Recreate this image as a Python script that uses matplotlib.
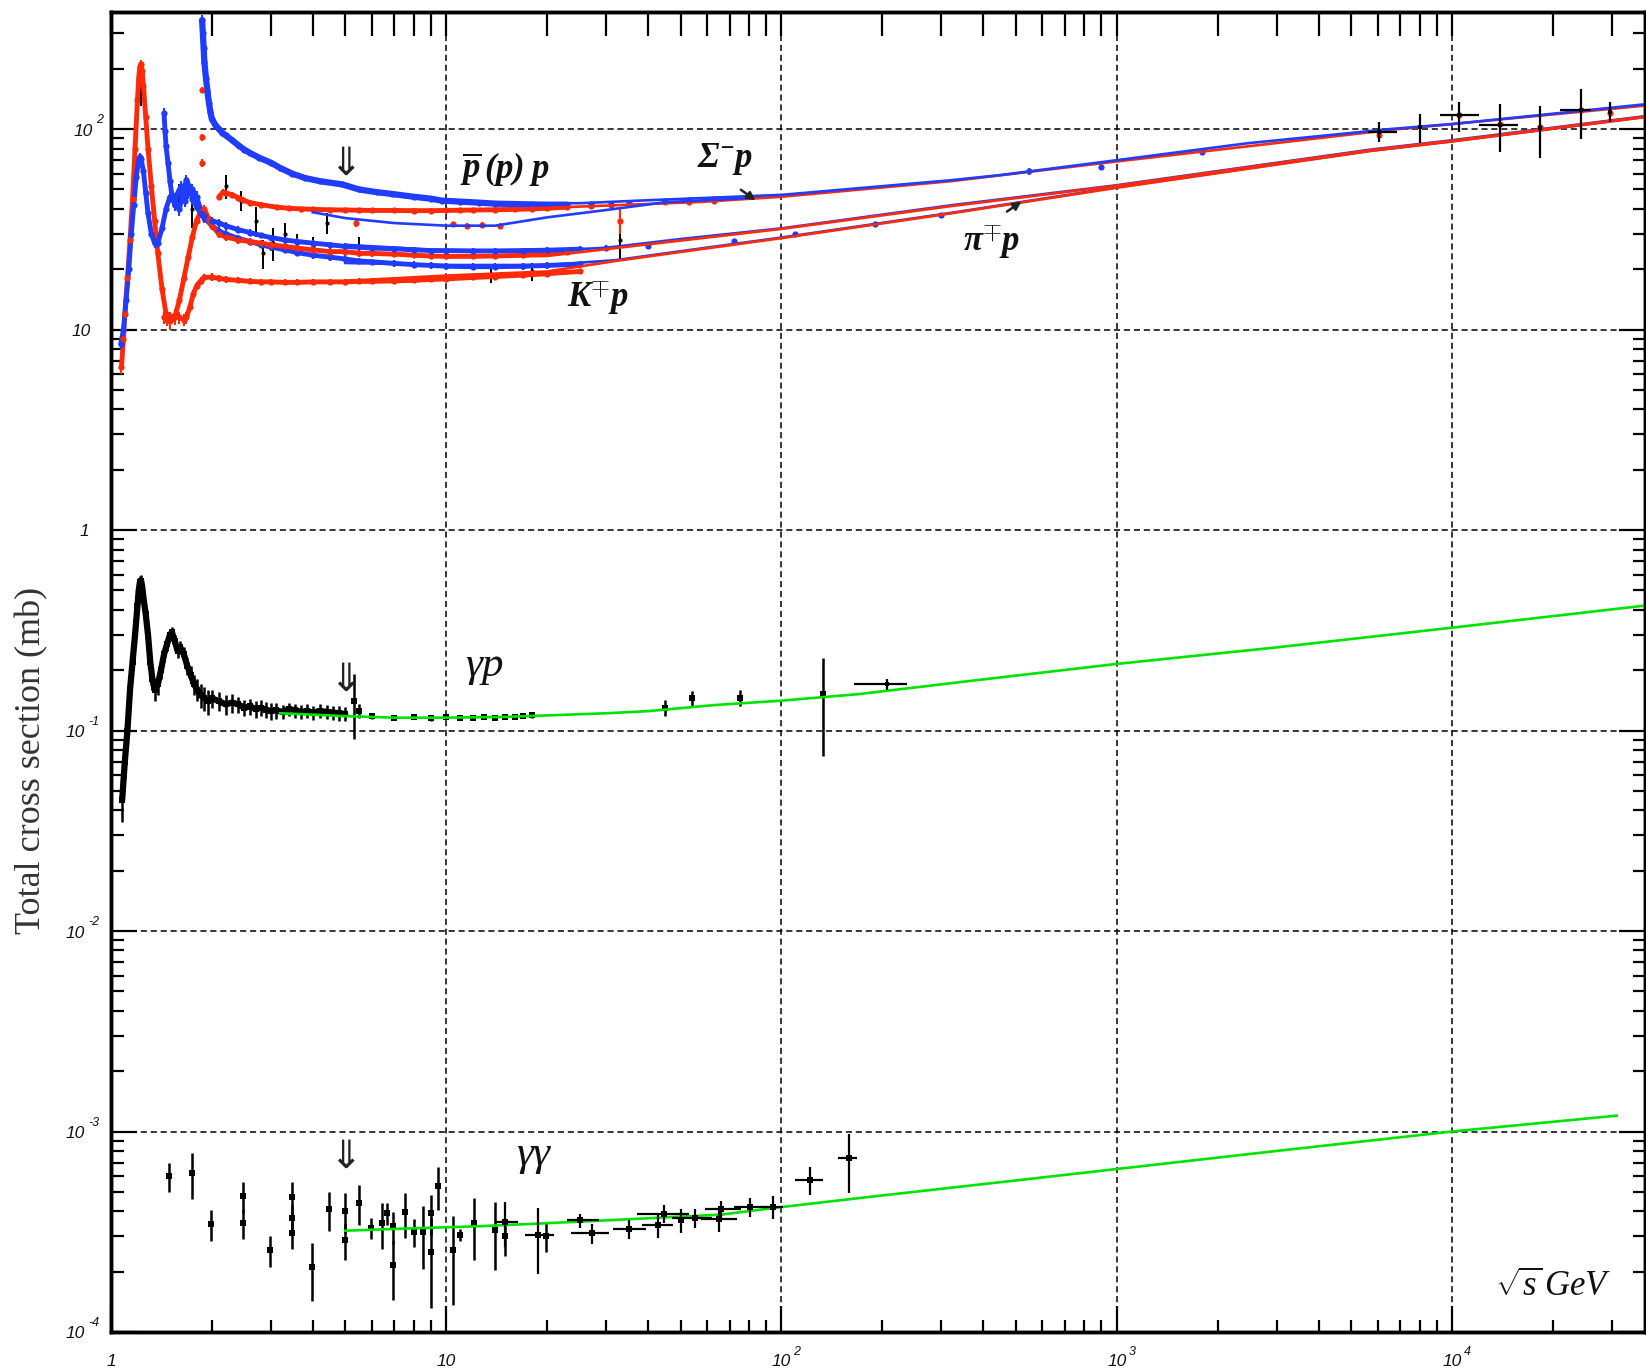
import matplotlib
matplotlib.use("Agg")
import matplotlib.pyplot as plt
from matplotlib.transforms import offset_copy
from matplotlib.ticker import LogLocator, NullFormatter
import numpy as np

# ---------------- data: (sqrt(s) GeV, sigma mb, error) ----------------
pbarp_pts = [(1.87, 350, 20), (1.88, 300, 15), (1.89, 255, 12), (1.9, 215, 10), (1.92, 180, 8),
             (1.94, 155, 7), (1.96, 135, 6), (1.98, 122, 5), (2.0, 112, 5), (2.05, 105, 4),
             (2.1, 100, 4), (2.15, 96, 3), (2.2, 93, 3), (2.3, 88, 3), (2.4, 83, 3), (2.5, 79, 2),
             (2.6, 76, 2), (2.77, 72, 2), (3.0, 68, 2), (3.2, 64, 2), (3.47, 60, 2), (3.8, 57, 2),
             (4.2, 55, 1.5), (4.9, 53, 1.5), (5.5, 50, 1.5), (6.2, 48.5, 1.5), (6.9, 47.5, 1.5),
             (8.0, 46, 1), (9.0, 45, 1), (9.7, 44, 1), (11, 43.5, 1), (12.5, 43, 1), (14, 42.5, 1),
             (16, 42.3, 1), (18, 42.1, 1), (20, 42, 1), (23, 42, 1), (27, 42.2, 1), (31, 42.5, 1),
             (35, 43, 1), (45, 44, 1), (53, 44.5, 1), (63, 45, 1), (546, 61.5, 2.5), (900, 65, 2),
             (1800, 77, 3)]
pp_pts = [(1.865, 157, 5), (1.87, 91, 4), (1.875, 68, 3), (2.1, 46, 1.5), (2.16, 48.5, 1.5),
          (2.2, 48, 1.5), (2.3, 47, 1.5), (2.4, 45.5, 1.5), (2.48, 44.3, 1.5), (2.6, 43, 1.2),
          (2.8, 42, 1.2), (3.12, 40.8, 1), (3.4, 40.3, 1), (3.7, 40, 1), (4.0, 39.8, 1), (4.5, 39.6, 1),
          (5, 39.5, 1), (5.5, 39.4, 1), (6, 39.3, 1), (7, 39.3, 1), (8, 39.2, 1), (9, 39.2, 1),
          (10, 39.3, 1), (11, 39.4, 1), (12, 39.5, 1), (14, 39.6, 1), (16, 39.8, 1), (18, 40, 1),
          (20, 40.3, 1), (23, 40.8, 1), (27, 41.3, 1), (31, 41.8, 1), (35, 42.3, 1), (45, 43.2, 1),
          (53, 43.5, 1), (63, 43.8, 1), (6040, 93, 3), (10500, 117, 3), (13900, 106, 3),
          (18300, 103, 3), (24300, 124, 3), (29500, 121, 3)]
sigma_pts = [(5.4, 34, 1.5), (10.5, 33.5, 1), (11.5, 33, 1), (12.8, 33.3, 1), (14.5, 33, 1), (33, 35, 5)]
pip_pts = [(1.075, 6.5, 0.5), (1.09, 9, 0.5), (1.1, 12, 1), (1.12, 18, 1), (1.14, 28, 2), (1.16, 45, 3),
           (1.18, 80, 5), (1.2, 140, 8), (1.21, 180, 8), (1.22, 205, 8), (1.23, 212, 8), (1.24, 195, 8),
           (1.25, 165, 7), (1.27, 115, 5), (1.29, 80, 4), (1.32, 52, 3), (1.35, 35, 2), (1.38, 24, 1.5),
           (1.42, 16, 1), (1.46, 12, 1), (1.5, 11, 1), (1.55, 11.5, 1), (1.6, 14, 1), (1.65, 18, 1),
           (1.7, 23, 1.5), (1.75, 29, 1.5), (1.8, 35, 2), (1.85, 38.5, 2), (1.9, 40, 2), (1.95, 36, 2),
           (2.0, 33, 1.5), (2.1, 30, 1.5), (2.2, 29, 1.2), (2.4, 28, 1.2), (2.6, 27.5, 1), (2.8, 27, 1),
           (3.0, 26.5, 1), (3.3, 26, 1), (3.6, 25.5, 1), (4.0, 25, 1), (4.5, 24.5, 1), (5.0, 24.5, 1),
           (5.5, 24, 1), (6.0, 24, 1), (7.0, 23.8, 0.8), (8.0, 23.5, 0.8), (9.0, 23.3, 0.8),
           (10.0, 23.2, 0.8), (12, 23.2, 0.8), (14, 23.3, 0.8), (17, 23.5, 0.8), (20, 24, 0.8),
           (23, 24.5, 0.8)]
pim_pts = [(1.07, 8.5, 0.5), (1.09, 10, 0.5), (1.11, 14, 1), (1.13, 20, 1), (1.15, 30, 2), (1.17, 42, 2),
           (1.19, 58, 3), (1.21, 70, 3), (1.22, 73, 3), (1.23, 71, 3), (1.25, 62, 3), (1.27, 48, 2),
           (1.29, 38, 2), (1.32, 30, 1.5), (1.35, 27, 1.5), (1.38, 27, 1.5), (1.42, 32, 2), (1.46, 40, 2),
           (1.5, 46, 3), (1.52, 47, 3), (1.55, 42, 3), (1.6, 40, 3), (1.65, 50, 3), (1.68, 56, 3),
           (1.71, 52, 3), (1.75, 45, 3), (1.8, 41, 2), (1.85, 38, 2), (1.9, 37, 2), (2.0, 35, 1.5),
           (2.1, 34, 1.5), (2.2, 33, 1.5), (2.4, 31.5, 1.2), (2.6, 30.5, 1.2), (2.8, 29.5, 1),
           (3.0, 28.8, 1), (3.3, 28, 1), (3.6, 27.5, 1), (4.0, 27, 1), (4.5, 26.5, 1), (5.0, 26, 1),
           (6.0, 25.5, 0.8), (7.0, 25.3, 0.8), (8.0, 25, 0.8), (9.0, 24.8, 0.8), (10, 24.8, 0.8),
           (12, 24.7, 0.8), (14, 24.7, 0.8), (17, 24.8, 0.8), (20, 24.9, 0.8), (25, 25.2, 0.8),
           (30, 25.6, 0.8), (40, 26.2, 0.6), (72, 27.8, 0.6), (110, 30, 0.6), (190, 33.5, 0.6),
           (300, 37.5, 0.6)]
km_pts = [(1.44, 120, 8), (1.45, 98, 6), (1.46, 82, 5), (1.48, 68, 4), (1.5, 55, 4), (1.52, 47, 3),
          (1.55, 42, 3), (1.58, 48, 3), (1.62, 52, 3), (1.66, 44, 3), (1.7, 48, 3), (1.75, 50, 3),
          (1.8, 46, 3), (1.85, 40, 2), (1.9, 36, 2), (2.0, 33, 1.5), (2.1, 31, 1.5), (2.2, 30, 1.5),
          (2.4, 28.5, 1.2), (2.6, 27.5, 1.2), (2.8, 26.5, 1), (3.0, 25.8, 1), (3.3, 25, 1),
          (3.6, 24.2, 1), (4.0, 23.5, 1), (4.5, 23, 1), (5, 22.5, 1), (5.5, 22, 0.8), (6, 21.8, 0.8),
          (7, 21.4, 0.8), (8, 21.1, 0.8), (9, 20.9, 0.8), (10, 20.7, 0.8), (12, 20.6, 0.8),
          (14, 20.6, 0.8), (17, 20.7, 0.8), (20, 20.9, 0.8), (25, 21.2, 0.8)]
kp_pts = [(1.44, 11.5, 0.8), (1.47, 11.2, 0.8), (1.5, 11.5, 0.8), (1.55, 11.8, 0.8), (1.6, 11.5, 0.8),
          (1.65, 11.2, 0.8), (1.68, 11.5, 0.8), (1.72, 13, 0.8), (1.76, 15, 0.8), (1.8, 16.5, 0.8),
          (1.85, 17.5, 0.8), (1.9, 18.2, 0.8), (2.0, 18.3, 0.8), (2.1, 18, 0.8), (2.2, 17.8, 0.8),
          (2.4, 17.6, 0.6), (2.6, 17.4, 0.6), (2.8, 17.3, 0.6), (3.0, 17.3, 0.6), (3.3, 17.2, 0.6),
          (3.6, 17.2, 0.6), (4.0, 17.3, 0.6), (4.5, 17.3, 0.6), (5.0, 17.3, 0.6), (5.5, 17.4, 0.6),
          (6.0, 17.4, 0.6), (7.0, 17.5, 0.6), (8, 17.6, 0.6), (9, 17.8, 0.6), (10, 17.9, 0.6),
          (12, 18.2, 0.6), (14, 18.4, 0.6), (17, 18.7, 0.6), (20, 19, 0.6), (25, 19.5, 0.6)]
black_had_pts = [(1.23, 150, 20), (1.6, 45, 8), (1.75, 40, 8), (2.2, 52, 7), (2.45, 44, 5), (2.7, 35, 6),
                 (2.85, 24, 4), (3.05, 27, 5), (3.3, 30, 4), (3.6, 27, 3), (4.0, 26, 3), (4.4, 34, 4),
                 (5.5, 26, 3), (13.6, 19, 2), (18, 19.5, 2), (33, 28, 6)]
# cosmic ray / collider points: (x, y, dy, x_low, x_high)
cosmic_pts = [(6040, 97, 11, 5600, 6850), (8000, 102, 17, 8000, 8000), (10500, 117, 20, 9200, 12000),
              (13900, 105, 28, 12000, 15700), (18300, 101, 29, 18300, 18300),
              (24300, 124, 35, 21000, 26000), (29500, 122, 14, 29500, 29500)]

gp_pts = [(1.08, 0.045, 0.01), (1.1, 0.07, 0.012), (1.12, 0.1, 0.015), (1.14, 0.16, 0.02),
          (1.16, 0.22, 0.02), (1.18, 0.3, 0.03), (1.2, 0.42, 0.04), (1.21, 0.5, 0.04), (1.22, 0.55, 0.04),
          (1.23, 0.56, 0.04), (1.24, 0.52, 0.04), (1.25, 0.46, 0.04), (1.27, 0.38, 0.03), (1.29, 0.3, 0.03),
          (1.31, 0.22, 0.02), (1.33, 0.18, 0.02), (1.35, 0.16, 0.02), (1.38, 0.17, 0.02), (1.41, 0.2, 0.02),
          (1.44, 0.24, 0.02), (1.47, 0.27, 0.02), (1.5, 0.3, 0.02), (1.52, 0.31, 0.02), (1.55, 0.28, 0.02),
          (1.58, 0.25, 0.02), (1.61, 0.26, 0.02), (1.65, 0.24, 0.02), (1.69, 0.21, 0.02), (1.73, 0.19, 0.02),
          (1.77, 0.17, 0.02), (1.81, 0.16, 0.02), (1.85, 0.15, 0.02), (1.9, 0.145, 0.02), (1.95, 0.14, 0.02),
          (2.0, 0.145, 0.015), (2.1, 0.14, 0.015), (2.2, 0.135, 0.015), (2.3, 0.138, 0.015),
          (2.4, 0.135, 0.012), (2.5, 0.13, 0.012), (2.6, 0.132, 0.012), (2.7, 0.128, 0.012),
          (2.8, 0.13, 0.012), (2.9, 0.127, 0.012), (3.0, 0.125, 0.012), (3.1, 0.126, 0.012),
          (3.25, 0.124, 0.01), (3.4, 0.128, 0.01), (3.55, 0.126, 0.01), (3.7, 0.124, 0.01),
          (3.85, 0.125, 0.01), (4.0, 0.123, 0.01), (4.2, 0.125, 0.01), (4.4, 0.124, 0.01),
          (4.6, 0.123, 0.01), (4.8, 0.122, 0.01), (5.0, 0.121, 0.01), (5.3, 0.141, 0.05),
          (5.5, 0.125, 0.01), (6.0, 0.118, 0.004), (7, 0.116, 0.003), (8, 0.117, 0.003), (9, 0.115, 0.003),
          (10, 0.117, 0.003), (11, 0.116, 0.003), (12, 0.116, 0.003), (13, 0.117, 0.003),
          (14, 0.116, 0.003), (15, 0.117, 0.003), (16, 0.117, 0.003), (17, 0.118, 0.003),
          (18, 0.119, 0.003), (45, 0.13, 0.012), (54, 0.145, 0.012), (75, 0.146, 0.013),
          (133, 0.153, 0.078)]
gp_hera_pts = [(207, 0.17, 0.01, 164, 237)]

gg_pts = [(1.49, 6.0e-4, 1.0e-4), (1.75, 6.2e-4, 1.6e-4), (1.99, 3.46e-4, 0.6e-4), (2.48, 4.77e-4, 0.85e-4),
          (2.48, 3.5e-4, 0.6e-4), (2.98, 2.57e-4, 0.45e-4), (3.46, 4.7e-4, 0.9e-4), (3.46, 3.7e-4, 0.6e-4),
          (3.46, 3.1e-4, 0.5e-4), (3.99, 2.11e-4, 0.68e-4), (4.48, 4.09e-4, 0.9e-4), (4.99, 4.03e-4, 0.9e-4),
          (4.99, 2.88e-4, 0.6e-4), (5.48, 4.41e-4, 1.0e-4), (5.97, 3.32e-4, 0.4e-4), (6.42, 3.48e-4, 0.9e-4),
          (6.65, 3.91e-4, 0.5e-4), (6.96, 3.36e-4, 0.6e-4), (6.96, 2.15e-4, 0.7e-4), (7.52, 3.95e-4, 1.0e-4),
          (8.0, 3.16e-4, 0.5e-4), (8.53, 3.16e-4, 1.1e-4), (9.0, 3.93e-4, 0.9e-4), (9.0, 2.51e-4, 1.2e-4),
          (9.46, 5.35e-4, 1.3e-4), (10.45, 2.57e-4, 1.2e-4), (11.0, 3.05e-4, 0.2e-4), (12.1, 3.48e-4, 1.2e-4),
          (14.0, 3.23e-4, 1.2e-4), (15.0, 3.0e-4, 0.6e-4), (19.8, 3.0e-4, 0.5e-4)]
# gamma gamma points with horizontal bins: (x, y, dy, x_low, x_high)
gg_bin_pts = [(15.0, 3.55e-4, 0.9e-4, 14.0, 16.4), (18.8, 3.05e-4, 1.1e-4, 17.2, 21.0),
              (25.0, 3.6e-4, 0.3e-4, 23.0, 28.5), (27.2, 3.1e-4, 0.35e-4, 23.5, 30.5),
              (35.2, 3.25e-4, 0.35e-4, 31.5, 39.5), (42.8, 3.4e-4, 0.45e-4, 38.5, 47.5),
              (44.7, 3.9e-4, 0.4e-4, 37.0, 53.0), (50.1, 3.6e-4, 0.5e-4, 50.1, 50.1),
              (55.4, 3.7e-4, 0.4e-4, 47.0, 62.0), (65.0, 3.65e-4, 0.5e-4, 57.5, 73.5),
              (66.0, 4.1e-4, 0.4e-4, 59.0, 75.5), (80.7, 4.2e-4, 0.45e-4, 72.0, 90.5),
              (94.6, 4.22e-4, 0.55e-4, 88.0, 101.0), (122, 5.73e-4, 0.9e-4, 110, 133),
              (159, 7.35e-4, 2.4e-4, 147, 168)]

# fit curves
fit_pbarp_x = [5, 7, 10, 15, 25, 40, 100, 320, 450, 1000, 2450, 6500, 10000, 37600]
fit_pbarp_y = [51.5, 46.5, 43.5, 42.5, 42.7, 44.2, 47, 55.6, 59, 70, 85, 100, 106, 133]
fit_pp_x = [5, 10, 20, 57, 100, 320, 1000, 6500, 37600]
fit_pp_y = [39.5, 39.4, 40.5, 43.3, 46, 55, 69, 99, 131]
fit_sigma_x = [4, 5, 7, 10, 14, 20, 30, 45, 80]
fit_sigma_y = [38.5, 36, 34, 33, 33, 36.3, 39.5, 43.2, 45.3]
fit_pim_x = [5, 10, 20, 30, 50, 100, 320, 1000, 5700, 10000, 37600]
fit_pim_y = [26.5, 24.8, 24.8, 25.6, 28.3, 32, 41.7, 52.5, 79, 88, 116]
fit_pip_x = [5, 10, 20, 30, 50, 100, 320, 1000, 5700, 10000, 37600]
fit_pip_y = [24.5, 23.0, 23.3, 25.2, 27.8, 31.8, 41.3, 52.2, 78.5, 87.5, 115.5]
fit_km_x = [5, 10, 20, 32, 50, 100, 320, 1000, 5700, 10000, 37600]
fit_km_y = [21.5, 21, 21, 22.2, 24.6, 28.8, 38.2, 51.3, 78, 87, 115]
fit_kp_x = [5, 10, 20, 32, 50, 100, 320, 1000, 5700, 10000, 37600]
fit_kp_y = [17.5, 18.6, 19.5, 22.0, 24.4, 28.6, 38, 51, 77.8, 86.8, 114.8]
fit_gp_x = [3.2, 5, 7, 10, 15, 20, 30, 40, 63, 100, 170, 400, 1000, 3000, 10000, 37600]
fit_gp_y = [0.122, 0.118, 0.116, 0.116, 0.117, 0.119, 0.122, 0.125, 0.134, 0.141, 0.152, 0.18,
            0.215, 0.26, 0.326, 0.42]
fit_gg_x = [5, 7.5, 12.6, 25, 66, 100, 200, 500, 1000, 3000, 10000, 31000]
fit_gg_y = [3.2e-4, 3.28e-4, 3.37e-4, 3.55e-4, 3.85e-4, 4.2e-4, 4.8e-4, 5.7e-4, 6.5e-4, 8.0e-4,
            1.0e-3, 1.2e-3]

x_decades = [1, 10, 100, 1000, 10000]
x_exps = ["", "", "2", "3", "4"]
y_decades = [1e-4, 1e-3, 1e-2, 1e-1, 1, 10, 100]
y_exps = ["-4", "-3", "-2", "-1", "", "", "2"]

BLUE = "#1f3cff"
RED = "#ff2a08"
GREEN = "#00e400"

plt.rcParams['mathtext.fontset'] = 'custom'
plt.rcParams['mathtext.rm'] = 'Liberation Serif'
plt.rcParams['mathtext.it'] = 'Liberation Serif:italic'
plt.rcParams['mathtext.bf'] = 'Liberation Serif:italic:bold'


def pts(p):
    a = np.array(p, dtype=float)
    return a.T


fig = plt.figure(figsize=(16.46, 13.71), dpi=100)
ax = fig.add_axes([0.0674, 0.02845, 0.9319, 0.9628])
ax.set_xscale("log")
ax.set_yscale("log")
ax.set_xlim(1, 37600)
ax.set_ylim(1e-4, 384)


def draw(p, color, ms=4.5, marker="o", z=2, elw=1.5, band=0, band_min=0, band_max=80):
    x, y, dy = pts(p)
    ax.errorbar(x, y, yerr=dy, fmt=marker, color=color, ms=ms, mew=0, elinewidth=elw,
                capsize=0, zorder=z)
    if band:
        # the measurements are so dense that they form a band
        sel = (x > band_min) & (x < band_max)
        ax.plot(x[sel], y[sel], color=color, lw=band, zorder=z, solid_capstyle="round")


def draw_bins(p, color="black", ms=3.5):
    x, y, dy, xl, xh = pts(p)
    ax.errorbar(x, y, yerr=dy, xerr=[x - xl, xh - x], fmt="s", color=color, ms=ms, mew=0,
                elinewidth=1.6, capsize=0, zorder=4)


# hadronic data
draw(black_had_pts, "black", ms=3, z=1, elw=1.4)
draw(kp_pts, RED, band=3.5, band_max=26)
draw(km_pts, BLUE, band=3.5, band_max=26)
draw(pip_pts, RED, band=3.5, band_max=26)
draw(pim_pts, BLUE, band=3.5, band_max=26)
draw(pp_pts, RED, z=2, band=3.5, band_min=2, band_max=26)
draw(sigma_pts, RED)
draw(pbarp_pts, BLUE, band=4.5, band_max=26)
draw_bins(cosmic_pts)

# fits
fit_kw = dict(lw=1.9, zorder=3)
ax.plot(fit_pp_x, fit_pp_y, color=RED, **fit_kw)
ax.plot(fit_pbarp_x, fit_pbarp_y, color=BLUE, **fit_kw)
ax.plot(fit_sigma_x, fit_sigma_y, color=BLUE, **fit_kw)
ax.plot(fit_km_x, fit_km_y, color=BLUE, **fit_kw)
ax.plot(fit_kp_x, fit_kp_y, color=RED, **fit_kw)
ax.plot(fit_pim_x, fit_pim_y, color=BLUE, **fit_kw)
ax.plot(fit_pip_x, fit_pip_y, color=RED, **fit_kw)

# gamma p
draw(gp_pts, "black", ms=4.5, marker="s", elw=1.8, band=4.5, band_max=5.2)
draw_bins(gp_hera_pts)
ax.plot(fit_gp_x, fit_gp_y, color=GREEN, **fit_kw)

# gamma gamma
draw(gg_pts, "black", ms=5, marker="s", elw=1.8)
draw_bins(gg_bin_pts, ms=5)
ax.plot(fit_gg_x, fit_gg_y, color=GREEN, **fit_kw)

# grid and ticks
ax.grid(which="major", color="black", ls=(0, (4, 2.5)), lw=1.1)
ax.set_axisbelow(True)
for sp in ax.spines.values():
    sp.set_linewidth(2.5)
ax.xaxis.set_major_locator(LogLocator(base=10, numticks=20))
ax.xaxis.set_minor_locator(LogLocator(base=10, subs=np.arange(2, 10), numticks=20))
ax.yaxis.set_major_locator(LogLocator(base=10, numticks=20))
ax.yaxis.set_minor_locator(LogLocator(base=10, subs=np.arange(2, 10), numticks=20))
ax.xaxis.set_minor_formatter(NullFormatter())
ax.yaxis.set_minor_formatter(NullFormatter())
ax.tick_params(which="both", direction="in", labelbottom=False, labelleft=False,
               top=False, right=True, width=1.6)
ax.tick_params(which="major", length=19)
ax.tick_params(which="minor", length=9)

ax_top = ax.twiny()
ax_top.set_xscale("log")
ax_top.set_xlim(ax.get_xlim())
ax_top.xaxis.set_major_locator(LogLocator(base=10, numticks=20))
ax_top.xaxis.set_minor_locator(LogLocator(base=10, subs=np.arange(2, 10), numticks=20))
ax_top.xaxis.set_minor_formatter(NullFormatter())
ax_top.tick_params(which="both", direction="in", labeltop=False, width=1.6, length=17)
for sp in ax_top.spines.values():
    sp.set_linewidth(2.5)

# tick labels drawn as "10" plus a raised exponent
tick_font = dict(family="Liberation Sans", style="italic", color="#111111")
xt = ax.get_xaxis_transform()
for v, e in zip(x_decades, x_exps):
    base = "1" if v == 1 else "10"
    ax.text(v, -0.022, base, transform=xt, ha="center", va="center", fontsize=12.5, **tick_font)
    if e:
        tr = offset_copy(xt, fig=fig, x=12, y=9, units="dots")
        ax.text(v, -0.022, e, transform=tr, ha="left", va="center", fontsize=9, **tick_font)

yt = ax.get_yaxis_transform()
for v, e in zip(y_decades, y_exps):
    if v == 1:
        tr = offset_copy(yt, fig=fig, x=-22, y=-1, units="dots")
        ax.text(0, v, "1", transform=tr, ha="right", va="center", fontsize=12.5, **tick_font)
        continue
    shift = 26 if e.startswith("-") else (18 if e else 20)
    tr = offset_copy(yt, fig=fig, x=-shift, y=-2, units="dots")
    ax.text(0, v, "10", transform=tr, ha="right", va="center", fontsize=12.5, **tick_font)
    if e:
        tr2 = offset_copy(yt, fig=fig, x=-shift + 3, y=9, units="dots")
        ax.text(0, v, e, transform=tr2, ha="left", va="center", fontsize=9, **tick_font)

fig.text(0.0195, 0.445, "Total cross section (mb)", rotation=90, ha="center", va="center",
         family="Liberation Serif", fontsize=26, color="#333333")

# process labels
lab = dict(ha="center", va="center", color="#111111", zorder=6)
ax.text(15.0, 63, r"$\overline{\mathbf{p}}\,\mathbf{(p)\;p}$", fontsize=25, **lab)
ax.text(68, 71, r"$\mathbf{\Sigma^{-}p}$", fontsize=25, **lab)
ax.text(424, 26.9, r"$\mathbf{\pi^{\mp}p}$", fontsize=25, **lab)
ax.text(28.3, 14.2, r"$\mathbf{K^{\mp}p}$", fontsize=25, **lab)
ax.text(13.0, 0.21, r"$\gamma p$", fontsize=31, **lab)
ax.text(18.3, 7.67e-4, r"$\gamma\gamma$", fontsize=31, **lab)
ax.text(20100, 1.7e-4, r"$\sqrt{s}\,GeV$", fontsize=25, **lab)

arrow_kw = dict(arrowstyle="-|>", color="#222222", lw=1.8, mutation_scale=12)
ax.annotate("", xy=(85, 43.3), xytext=(74.5, 50.8), arrowprops=arrow_kw, zorder=6)
ax.annotate("", xy=(528, 44.3), xytext=(463, 38.1), arrowprops=arrow_kw, zorder=6)

for yv in [67, 0.18, 7.5e-4]:
    ax.text(5.0, yv, "\u21d3", fontsize=28, family="DejaVu Sans", ha="center", va="center",
            color="#222222", zorder=6)

fig.savefig("out.png", dpi=100)
